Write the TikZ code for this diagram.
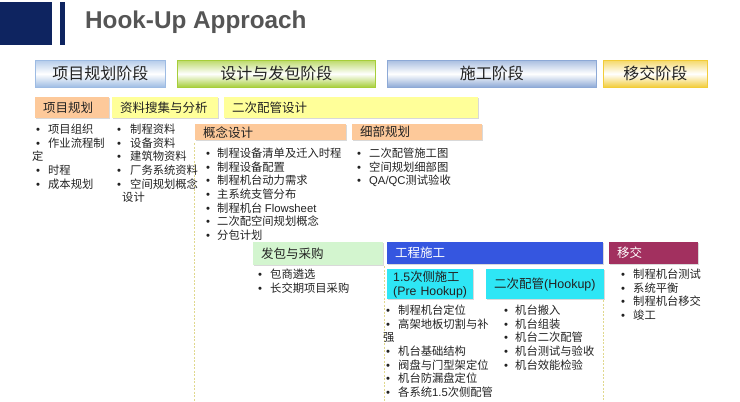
\documentclass[tikz,border=0pt]{standalone}
\usepackage{fontspec}
\setmainfont{Noto Sans CJK SC}
\newfontfamily\latf{Liberation Sans}
\usetikzlibrary{shadows}
\definecolor{navyc}{RGB}{14,36,96}
\definecolor{titlegray}{HTML}{555555}
\definecolor{txt}{HTML}{222222}
\definecolor{pAe}{HTML}{9DBBE3}\definecolor{pAm}{HTML}{EEF5FC}
\definecolor{pBe}{HTML}{A6CE39}\definecolor{pBm}{HTML}{F2FAD0}
\definecolor{pCe}{HTML}{8DA9D6}\definecolor{pCm}{HTML}{F6F8FD}
\definecolor{pDe}{HTML}{F2CC38}\definecolor{pDm}{HTML}{FFFADA}
\definecolor{orangec}{HTML}{FDC99A}
\definecolor{yellowc}{HTML}{FFFF99}
\definecolor{greenc}{HTML}{D3F5CF}
\definecolor{bluec}{HTML}{3556E0}
\definecolor{cyanc}{HTML}{2EE6F5}
\definecolor{maroonc}{HTML}{A2305F}
\definecolor{dashc}{HTML}{E0D88E}
\newcommand{\itm}[3]{\makebox[#1][l]{\hspace*{#2}{\latf •}}#3}
\newcommand{\mybox}[7]{\node[#2, text width={#5pt-#3pt-16pt}, minimum height={#6pt-#4pt}, anchor=north west] (#1) at (#3,#4) {#7};}
\begin{document}
\begin{tikzpicture}[x=1pt,y=-1pt,
  phase/.style={draw=#1, line width=0.6pt, top color=#1!75!white, bottom color=#1, middle color=white, inner xsep=8pt, inner ysep=0pt, align=center, font=\fontsize{16}{18}\selectfont, text=txt},
  hbox/.style={fill=#1, inner xsep=8pt, inner ysep=0pt, align=left, font=\fontsize{12.5}{14}\selectfont, text=txt, drop shadow={shadow xshift=1pt, shadow yshift=-1.2pt, opacity=0.15, fill=black}},
  blist/.style={anchor=north west, inner sep=0pt, align=left, font=\fontsize{11.3}{13.6}\selectfont, text=txt},
  guide/.style={draw=dashc, line width=1pt, dash pattern=on 2pt off 1.5pt}
]
\useasboundingbox (0,0) rectangle (740,402);
% title
\fill[navyc] (0,2) rectangle (52,45);
\fill[navyc] (60,2) rectangle (65,45);
\node[anchor=west, inner sep=0pt, text=titlegray, font=\latf\bfseries\fontsize{24.3}{27}\selectfont] (title) at (85,22) {Hook-Up Approach};
% phases
\mybox{pA}{phase=pAe}{35}{60}{165}{87}{项目规划阶段}
\mybox{pB}{phase=pBe}{177}{60}{375}{87}{设计与发包阶段}
\mybox{pC}{phase=pCe}{387}{60}{596}{87}{施工阶段}
\mybox{pD}{phase=pDe}{603}{60}{707}{87}{移交阶段}
% row 2
\mybox{r1}{hbox=orangec}{35}{97}{109}{118}{项目规划}
\mybox{r2}{hbox=yellowc}{112}{97}{218}{118}{资料搜集与分析}
\mybox{r3}{hbox=yellowc}{224}{97}{478}{118}{二次配管设计}
% row 3
\mybox{c1}{hbox=orangec}{195}{124}{346}{140}{概念设计}
\mybox{c2}{hbox=orangec}{352}{124}{482}{140}{细部规划}
% guides
\coordinate (g1a) at (194,143); \coordinate (g1b) at (194,402);
\coordinate (g2a) at (384,266); \coordinate (g2b) at (384,402);
\coordinate (g3a) at (603,300); \coordinate (g3b) at (603,402);
\draw[guide] (g1a) -- (g1b);
\draw[guide] (g2a) -- (g2b);
\draw[guide] (g3a) -- (g3b);
% row 4
\mybox{s1}{hbox=greenc}{253}{242}{383}{265}{发包与采购}
\mybox{s2}{hbox=bluec, text=white}{387}{242}{603}{264}{工程施工}
\mybox{s3}{hbox=maroonc, text=white}{609}{242}{698}{264}{移交}
% row 5
\node[hbox=cyanc, inner xsep=6pt, text width=74pt, minimum height=30pt, anchor=north west, font=\fontsize{12.3}{14}\selectfont] (h1) at (387,269) {{\latf 1.5}次侧施工\\{\latf (Pre Hookup)}};
\mybox{h2}{hbox=cyanc}{486}{269}{604}{299}{二次配管{\latf (Hookup)}}
% lists
\node[blist] (L1) at (32,124) {\itm{16pt}{4pt}{项目组织}\\\itm{16pt}{4pt}{作业流程制}\\定\\\itm{16pt}{4pt}{时程}\\\itm{16pt}{4pt}{成本规划}};
\node[blist] (L2) at (116,124) {\itm{14pt}{1pt}{制程资料}\\\itm{14pt}{1pt}{设备资料}\\\itm{14pt}{1pt}{建筑物资料}\\\itm{14pt}{1pt}{厂务系统资料}\\\itm{14pt}{1pt}{空间规划概念}\\\hspace*{6pt}设计};
\node[blist] (L3) at (205,148) {\itm{12pt}{1pt}{制程设备清单及迁入时程}\\\itm{12pt}{1pt}{制程设备配置}\\\itm{12pt}{1pt}{制程机台动力需求}\\\itm{12pt}{1pt}{主系统支管分布}\\\itm{12pt}{1pt}{制程机台 {\latf Flowsheet}}\\\itm{12pt}{1pt}{二次配空间规划概念}\\\itm{12pt}{1pt}{分包计划}};
\node[blist] (L4) at (356,148) {\itm{13pt}{1pt}{二次配管施工图}\\\itm{13pt}{1pt}{空间规划细部图}\\\itm{13pt}{1pt}{{\latf QA/QC}测试验收}};
\node[blist] (L5) at (257,269) {\itm{13pt}{1pt}{包商遴选}\\\itm{13pt}{1pt}{长交期项目采购}};
\node[blist] (L6) at (620,269) {\itm{13pt}{1pt}{制程机台测试}\\\itm{13pt}{1pt}{系统平衡}\\\itm{13pt}{1pt}{制程机台移交}\\\itm{13pt}{1pt}{竣工}};
\node[blist] (L7) at (383,305) {\itm{15pt}{3pt}{制程机台定位}\\\itm{15pt}{3pt}{高架地板切割与补}\\强\\\itm{15pt}{3pt}{机台基础结构}\\\itm{15pt}{3pt}{阀盘与门型架定位}\\\itm{15pt}{3pt}{机台防漏盘定位}\\\itm{15pt}{3pt}{各系统{\latf 1.5}次侧配管}};
\node[blist] (L8) at (503,305) {\itm{12pt}{1pt}{机台搬入}\\\itm{12pt}{1pt}{机台组装}\\\itm{12pt}{1pt}{机台二次配管}\\\itm{12pt}{1pt}{机台测试与验收}\\\itm{12pt}{1pt}{机台效能检验}};
\end{tikzpicture}
\end{document}
